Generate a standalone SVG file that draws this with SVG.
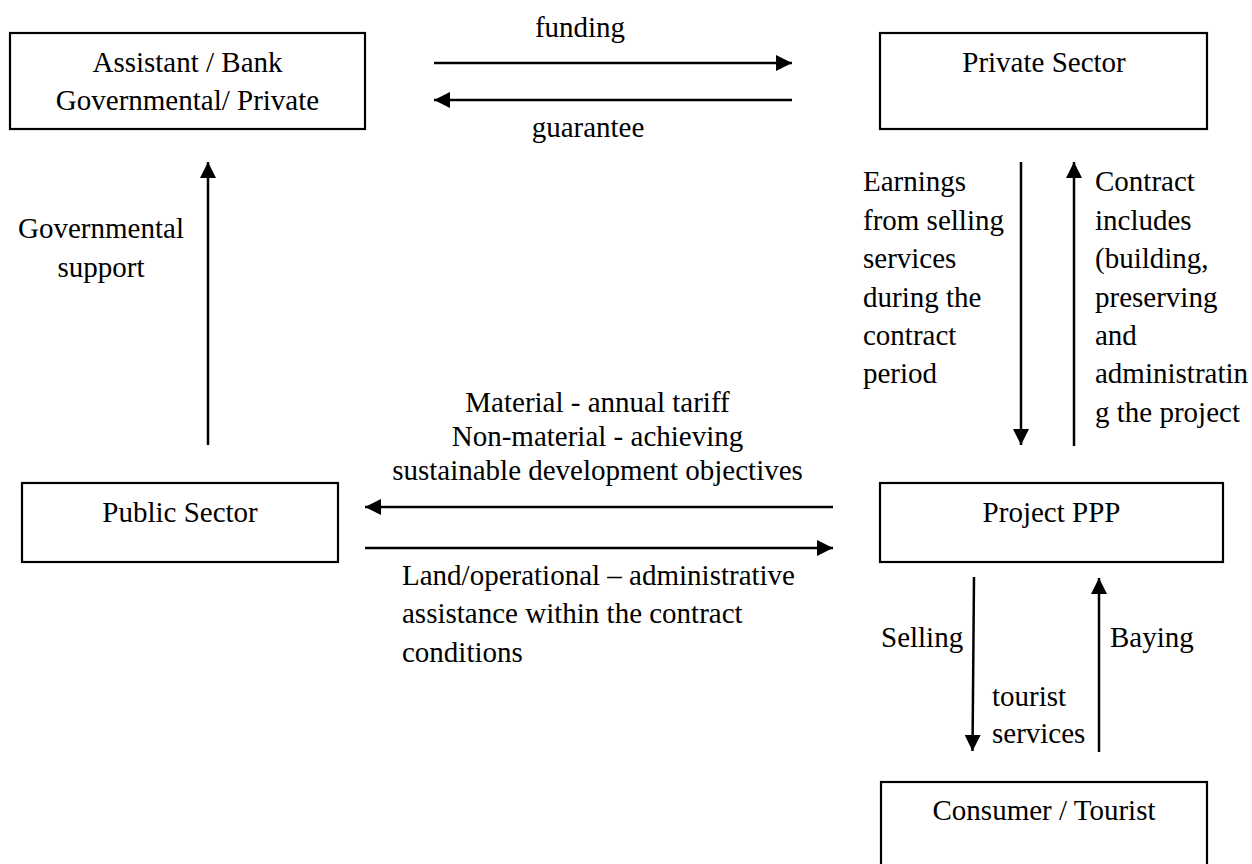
<svg xmlns="http://www.w3.org/2000/svg" width="1252" height="864" viewBox="0 0 1252 864">
<style>
.box{fill:#fff;stroke:#000;stroke-width:2.2}
text{font-family:"Liberation Serif","Times New Roman",serif;font-size:29px;fill:#000}
.c{text-anchor:middle}
.ln{stroke:#000;stroke-width:2.5;fill:none;marker-end:url(#ah)}
</style>
<defs>
<marker id="ah" markerUnits="userSpaceOnUse" markerWidth="16" markerHeight="16" refX="15" refY="7.5" orient="auto" viewBox="0 0 15 15">
<path d="M0,0 L15,7.5 L0,15 z" fill="#000"/>
</marker>
</defs>
<rect width="1252" height="864" fill="#fff"/>
<g id="bank">
<rect class="box" x="10" y="33" width="355" height="96"/>
<text class="c" x="187.5" y="72">Assistant / Bank</text>
<text class="c" x="187.5" y="110">Governmental/ Private</text>
</g>
<g id="private">
<rect class="box" x="880" y="33" width="327" height="96"/>
<text class="c" x="1044" y="72">Private Sector</text>
</g>
<g id="public">
<rect class="box" x="22" y="483" width="316" height="79"/>
<text class="c" x="180" y="522">Public Sector</text>
</g>
<g id="project">
<rect class="box" x="880" y="483" width="343" height="79"/>
<text class="c" x="1051.5" y="522">Project PPP</text>
</g>
<g id="consumer">
<rect class="box" x="881" y="782" width="326" height="100"/>
<text class="c" x="1044" y="820">Consumer / Tourist</text>
</g>
<g id="connectors">
<line class="ln" x1="434" y1="63" x2="792" y2="63"/>
<line class="ln" x1="792" y1="100" x2="434" y2="100"/>
<line class="ln" x1="208" y1="445" x2="208" y2="162"/>
<line class="ln" x1="1021" y1="162" x2="1021" y2="445"/>
<line class="ln" x1="1074" y1="446" x2="1074" y2="162"/>
<line class="ln" x1="833" y1="507" x2="365" y2="507"/>
<line class="ln" x1="365" y1="548" x2="833" y2="548"/>
<line class="ln" x1="974" y1="577" x2="972.5" y2="751"/>
<line class="ln" x1="1099" y1="752" x2="1099" y2="578"/>
</g>
<g id="labels">
<text class="c" x="580" y="37">funding</text>
<text class="c" x="588" y="137">guarantee</text>
<text class="c" x="101" y="238">Governmental</text>
<text class="c" x="101" y="277">support</text>
<text x="863" y="191">Earnings</text>
<text x="863" y="230">from selling</text>
<text x="863" y="268">services</text>
<text x="863" y="307">during the</text>
<text x="863" y="345">contract</text>
<text x="863" y="383">period</text>
<text x="1095" y="191">Contract</text>
<text x="1095" y="230">includes</text>
<text x="1095" y="268">(building,</text>
<text x="1095" y="307">preserving</text>
<text x="1095" y="345">and</text>
<text x="1095" y="383">administratin</text>
<text x="1095" y="422">g the project</text>
<text class="c" x="597.5" y="412">Material - annual tariff</text>
<text class="c" x="597.5" y="446">Non-material - achieving</text>
<text class="c" x="597.5" y="480">sustainable development objectives</text>
<text x="402" y="585">Land/operational – administrative</text>
<text x="402" y="623">assistance within the contract</text>
<text x="402" y="662">conditions</text>
<text x="881" y="647">Selling</text>
<text x="1110" y="647">Baying</text>
<text x="992" y="706">tourist</text>
<text x="992" y="743">services</text>
</g>
</svg>
